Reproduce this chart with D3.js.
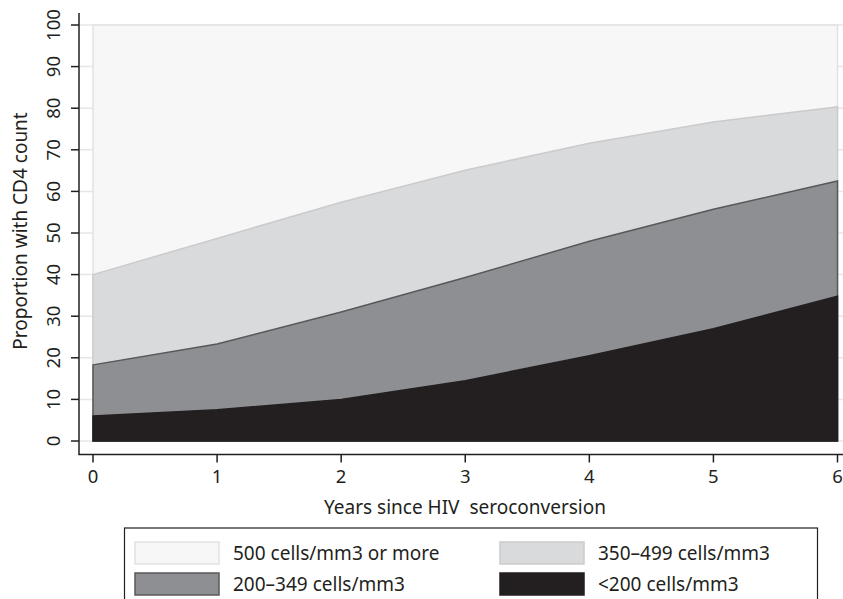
<!DOCTYPE html>
<html>
<head>
<meta charset="utf-8">
<script src="https://cdn.jsdelivr.net/npm/d3@7"></script>
<style>
  body { margin: 0; background: #fff; }
  text { font-family: "Noto Sans", "Open Sans", sans-serif; fill: #231f20; }
</style>
</head>
<body>
<svg width="843" height="599"></svg>
<script>
// years since seroconversion
var years = [0, 1, 2, 3, 4, 5, 6];
// cumulative proportions (top edge of each band)
var under200 = [6.0, 7.5, 10.0, 14.5, 20.5, 27.0, 34.8];
var upTo349 = [18.3, 23.3, 31.0, 39.3, 48.0, 55.7, 62.5];
var upTo499 = [40.0, 48.7, 57.4, 65.1, 71.6, 76.7, 80.3];
var allCounts = [100, 100, 100, 100, 100, 100, 100];
var yTicks = [0, 10, 20, 30, 40, 50, 60, 70, 80, 90, 100];
var bandLabels = ["500 cells/mm3 or more", "350\u2013499 cells/mm3", "200\u2013349 cells/mm3", "<200 cells/mm3"];

var svg = d3.select("svg");

var x = d3.scaleLinear().domain([0, 6]).range([93, 837.5]);
var y = d3.scaleLinear().domain([0, 100]).range([441, 25]);
var axisY = 454.5;

// gridlines
svg.append("g")
  .selectAll("line")
  .data(yTicks)
  .enter()
  .append("line")
  .attr("x1", 80).attr("x2", 843)
  .attr("y1", d => y(d)).attr("y2", d => y(d))
  .attr("stroke", "#e6e6e6")
  .attr("stroke-width", 1.5);

var bands = [
  { vals: allCounts, fill: "#f7f7f7", stroke: "#e2e2e2" },
  { vals: upTo499, fill: "#d9dadc", stroke: "#cbcbcd" },
  { vals: upTo349, fill: "#8e8f92", stroke: "#58585b" },
  { vals: under200, fill: "#231f20", stroke: "#231f20" }
];

var area = d3.area()
  .x((d, i) => x(years[i]))
  .y0(y(0))
  .y1(d => y(d))
  .curve(d3.curveLinear);

svg.append("g")
  .selectAll("path")
  .data(bands)
  .enter()
  .append("path")
  .attr("d", d => area(d.vals) + "Z")
  .attr("fill", d => d.fill)
  .attr("stroke", d => d.stroke)
  .attr("stroke-width", 1.5);

// y axis
svg.append("line")
  .attr("x1", 79).attr("x2", 79)
  .attr("y1", 13).attr("y2", axisY)
  .attr("stroke", "#231f20").attr("stroke-width", 1.5);

svg.append("g")
  .selectAll("line")
  .data(yTicks)
  .enter()
  .append("line")
  .attr("x1", 71).attr("x2", 79)
  .attr("y1", d => y(d)).attr("y2", d => y(d))
  .attr("stroke", "#231f20").attr("stroke-width", 1.5);

svg.append("g")
  .selectAll("text")
  .data(yTicks)
  .enter()
  .append("text")
  .attr("transform", d => "translate(60," + y(d) + ") rotate(-90)")
  .attr("text-anchor", "middle")
  .attr("font-size", 18.5)
  .text(d => d);

svg.append("text")
  .attr("transform", "translate(27,231) rotate(-90)")
  .attr("text-anchor", "middle")
  .attr("font-size", 19)
  .text("Proportion with CD4 count");

// x axis
svg.append("line")
  .attr("x1", 78.25).attr("x2", 843)
  .attr("y1", axisY).attr("y2", axisY)
  .attr("stroke", "#231f20").attr("stroke-width", 1.5);

svg.append("g")
  .selectAll("line")
  .data(years)
  .enter()
  .append("line")
  .attr("x1", d => x(d)).attr("x2", d => x(d))
  .attr("y1", axisY).attr("y2", axisY + 8)
  .attr("stroke", "#231f20").attr("stroke-width", 1.5);

svg.append("g")
  .selectAll("text")
  .data(years)
  .enter()
  .append("text")
  .attr("x", d => x(d))
  .attr("y", 483)
  .attr("text-anchor", "middle")
  .attr("font-size", 18.5)
  .text(d => d);

svg.append("text")
  .attr("x", 465)
  .attr("y", 514)
  .attr("text-anchor", "middle")
  .attr("font-size", 19)
  .attr("xml:space", "preserve")
  .text("Years since HIV  seroconversion");

// legend
svg.append("rect")
  .attr("x", 124.5).attr("y", 528)
  .attr("width", 693).attr("height", 80)
  .attr("fill", "#fff")
  .attr("stroke", "#231f20").attr("stroke-width", 1.2);

var legendPos = [[135, 542], [500, 542], [135, 573], [500, 573]];

var items = svg.append("g")
  .selectAll("g")
  .data(bands)
  .enter()
  .append("g")
  .attr("transform", (d, i) => "translate(" + legendPos[i][0] + "," + legendPos[i][1] + ")");

items.append("rect")
  .attr("width", 84).attr("height", 22)
  .attr("fill", d => d.fill)
  .attr("stroke", d => d.stroke)
  .attr("stroke-width", 1.5);

items.append("text")
  .attr("x", 98)
  .attr("y", 18)
  .attr("font-size", 19)
  .text((d, i) => bandLabels[i]);
</script>
</body>
</html>
